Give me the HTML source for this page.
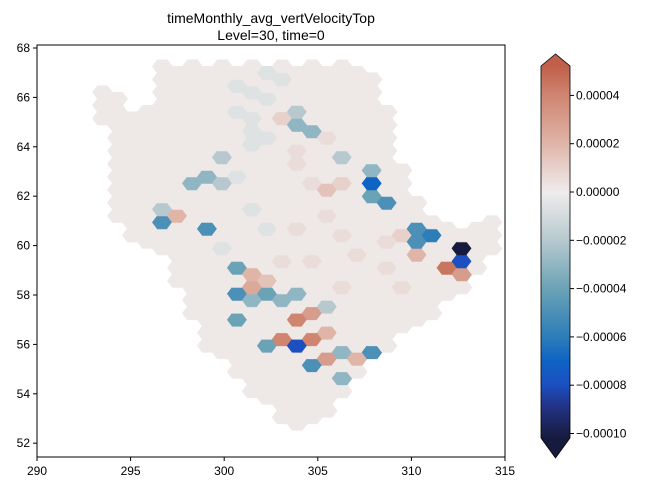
<!DOCTYPE html>
<html><head><meta charset="utf-8">
<style>
body{margin:0;background:#fff;}
svg text{font-family:"Liberation Sans","DejaVu Sans",sans-serif;fill:#000;}
</style></head>
<body>
<svg id="chart" width="650" height="491" viewBox="0 0 650 491" xmlns="http://www.w3.org/2000/svg">
<text x="271" y="23" text-anchor="middle" font-size="14">timeMonthly_avg_vertVelocityTop</text>
<text x="271" y="40" text-anchor="middle" font-size="14">Level=30, time=0</text>
<g id="cells"></g>
<rect x="37" y="45" width="468" height="412" fill="none" stroke="#000" stroke-width="1"/>
<g id="xaxis"></g>
<g id="yaxis"></g>
<defs><linearGradient id="cbgrad" x1="0" y1="1" x2="0" y2="0"></linearGradient></defs>
<g id="colorbar"></g>
</svg>
<script>
// ---- data ----
const colLon = [293.5,294.3,295.1,295.9,296.7,297.5,298.3,299.1,299.9,300.7,301.5,302.3,303.1,303.9,304.7,305.5,306.3,307.1,307.9,308.7,309.5,310.3,311.1,311.9,312.7,313.5,314.3];
const colLatTop = [66.4,66.4,65.5,65.9,67.3,67.3,67.4,67.4,67.5,67.4,67.4,67.4,67.4,67.4,67.4,67.4,67.4,67.4,66.9,65.5,63.1,61.9,61.0,60.8,60.8,61.0,61.2];
const colLatBot = [64.8,61.0,60.4,60.0,59.4,58.2,57.0,55.8,55.2,54.6,54.0,53.75,52.7,52.5,52.9,53.3,54.0,54.6,55.2,55.8,56.4,56.8,57.2,57.8,58.2,58.6,59.6];
const defaultValue = 0.0000015;
const cellLon = [296.8,297.5,298.8,296.5,298.7,299.4,299.7,307.6,307.5,308.3,309.0,310.2,310.5,311.2,313.0,313.1,311.6,312.4,310.5,309.9,304.0,303.8,304.7,303.4,300.7,300.8,301.4,301.5,302.3,302.2,301.1,301.6,303.7,304.4,303.4,304.2,305.1,305.6,306.2,304.7,307.8,306.7,307.1,302.6,303.2,303.8,305.5,305.3,306.1,305.9,305.9,299.9,
300.6,301.4,300.3,301.1,301.6,300.8,302.2,303.0,302.4,301.9,302.2,300.3,302.4,301.4,
304.0,304.6,305.1,306.2,307.3,308.3,306.7,304.0,305.1,308.9,304.0,305.7,303.0,309.4];
const cellLat = [60.7,61.1,60.6,61.6,62.6,62.8,63.7,62.6,63.1,62.1,61.5,60.9,60.3,60.2,59.8,59.3,59.3,59.1,59.8,60.4,64.7,65.6,64.8,64.9,59.1,58.1,59.0,58.5,58.5,57.9,57.1,57.8,57.2,57.3,56.3,56.2,56.1,55.5,55.6,55.2,55.7,54.4,55.3,56.0,57.9,57.8,57.5,56.5,62.7,62.3,63.5,62.3,
66.7,66.3,65.5,64.7,63.9,62.9,66.9,66.5,65.9,65.1,64.3,60.0,60.6,61.4,
63.1,62.3,61.2,60.6,59.8,59.0,58.2,60.6,59.4,60.2,63.9,64.3,59.4,58.2];
const cellVal = [-5e-5,2e-5,-5e-5,-2e-5,-3e-5,-3e-5,-2e-5,-7e-5,-3e-5,-4e-5,-5e-5,-5e-5,-5e-5,-6e-5,-1.1e-4,-8e-5,4.5e-5,3e-5,2e-5,1e-5,-3e-5,-2e-5,-3e-5,1e-5,-4e-5,-5e-5,2e-5,2.5e-5,1.5e-5,-4e-5,-4e-5,-3e-5,4e-5,3e-5,4e-5,-8e-5,4e-5,3e-5,-3e-5,-5e-5,-5e-5,-3e-5,2e-5,-4e-5,-3e-5,-3e-5,-2e-5,2e-5,1e-5,1.5e-5,-2e-5,-2e-5,
-6e-6,-6e-6,-6e-6,-6e-6,-6e-6,-6e-6,-6e-6,-6e-6,-6e-6,-6e-6,-6e-6,-6e-6,-6e-6,-6e-6,
6e-6,6e-6,6e-6,6e-6,6e-6,6e-6,6e-6,6e-6,6e-6,6e-6,6e-6,6e-6,6e-6,6e-6];
const xTicks = [290,295,300,305,310,315];
const yTicks = [52,54,56,58,60,62,64,66,68];
const cbTicks = [0.00004,0.00002,0,-0.00002,-0.00004,-0.00006,-0.00008,-0.0001];
const cbTickLabels = ["0.00004","0.00002","0.00000","\u22120.00002","\u22120.00004","\u22120.00006","\u22120.00008","\u22120.00010"];
const cmapVals = [-1.02e-4,-9e-5,-8e-5,-7e-5,-6e-5,-4e-5,-2e-5,0,2e-5,4e-5,5.2e-5];
const cmapCols = ["#161b3d","#22307e","#1c4fbf","#0f63c4","#2c7db8","#6ba3b6","#b7c9cf","#efecec","#dfb5a8","#cf8570","#c0604a"];
const latStep = 0.526, lonStep = 0.8;

// ---- scales ----
const NS="http://www.w3.org/2000/svg";
const xS = lon => 37 + (lon-290)*18.72;
const yS = lat => 48 + (68-lat)*24.7;
const cbY = v => 192 - v/2e-5*48.3;
function hex2rgb(h){return [1,3,5].map(i=>parseInt(h.substr(i,2),16));}
function color(v){
  if(v<=cmapVals[0]) return cmapCols[0];
  for(let i=1;i<cmapVals.length;i++){
    if(v<=cmapVals[i]){
      const t=(v-cmapVals[i-1])/(cmapVals[i]-cmapVals[i-1]);
      const a=hex2rgb(cmapCols[i-1]),b=hex2rgb(cmapCols[i]);
      return "rgb("+a.map((c,k)=>Math.round(c+(b[k]-c)*t)).join(",")+")";
    }
  }
  return cmapCols[cmapCols.length-1];
}
// ---- grid ----
const cells=[];
colLon.forEach((lon,i)=>{
  const off=(i%2)*latStep/2;
  for(let lat=52+off;lat<=colLatTop[i]+0.01;lat+=latStep){
    if(lat>=colLatBot[i]-0.01) cells.push({lon,lat,v:defaultValue});
  }
});
cellLon.forEach((lon,j)=>{
  let best=null,bd=1e9;
  cells.forEach(c=>{const d=Math.hypot(xS(c.lon)-xS(lon),yS(c.lat)-yS(cellLat[j]));if(d<bd){bd=d;best=c;}});
  if(best && bd<14) best.v=cellVal[j];
});
const g=document.getElementById('cells');
cells.forEach(c=>{
  const cx=xS(c.lon),cy=yS(c.lat);
  const p=document.createElementNS(NS,'polygon');
  
  
  p.setAttribute('points',[[cx-10,cy],[cx-5,cy-6.6],[cx+5,cy-6.6],[cx+10,cy],[cx+5,cy+6.6],[cx-5,cy+6.6]].map(q=>q.join(',')).join(' '));
  const col=color(c.v);
  p.setAttribute('fill',col);p.setAttribute('stroke',col);p.setAttribute('stroke-width','0.6');
  g.appendChild(p);
});
// ---- axes ----
const xa=document.getElementById('xaxis');
xTicks.forEach(t=>{
  const x=xS(t);
  const l=document.createElementNS(NS,'line');
  
  
  l.setAttribute('x1',x);l.setAttribute('x2',x);l.setAttribute('y1',457);l.setAttribute('y2',461);l.setAttribute('stroke','#000');
  xa.appendChild(l);
  const tx=document.createElementNS(NS,'text');
  
  
  tx.setAttribute('x',x);tx.setAttribute('y',475);tx.setAttribute('text-anchor','middle');tx.setAttribute('font-size','12');
  tx.textContent=t;xa.appendChild(tx);
});
const ya=document.getElementById('yaxis');
yTicks.forEach(t=>{
  const y=yS(t);
  const l=document.createElementNS(NS,'line');
  
  
  l.setAttribute('x1',33);l.setAttribute('x2',37);l.setAttribute('y1',y);l.setAttribute('y2',y);l.setAttribute('stroke','#000');
  ya.appendChild(l);
  const tx=document.createElementNS(NS,'text');
  
  
  tx.setAttribute('x',30);tx.setAttribute('y',y+4);tx.setAttribute('text-anchor','end');tx.setAttribute('font-size','12');
  tx.textContent=t;ya.appendChild(tx);
});
// ---- colorbar ----
const grad=document.getElementById('cbgrad');
const cbTop=66,cbBot=438;
cmapVals.forEach((v,i)=>{
  const s=document.createElementNS(NS,'stop');
  s.setAttribute('offset',((cbBot-cbY(v))/(cbBot-cbTop)));
  s.setAttribute('stop-color',cmapCols[i]);
  grad.appendChild(s);
});
const cb=document.getElementById('colorbar');
const r=document.createElementNS(NS,'rect');


r.setAttribute('x',541);r.setAttribute('y',cbTop);r.setAttribute('width',29);r.setAttribute('height',cbBot-cbTop);r.setAttribute('fill','url(#cbgrad)');
cb.appendChild(r);
const up=document.createElementNS(NS,'polygon');


up.setAttribute('points','541,'+cbTop+' 555.5,54 570,'+cbTop);up.setAttribute('fill',cmapCols[cmapCols.length-1]);
cb.appendChild(up);
const dn=document.createElementNS(NS,'polygon');


dn.setAttribute('points','541,'+cbBot+' 555.5,458 570,'+cbBot);dn.setAttribute('fill',cmapCols[0]);
cb.appendChild(dn);
const ol=document.createElementNS(NS,'polygon');


ol.setAttribute('points','541,'+cbTop+' 555.5,54 570,'+cbTop+' 570,'+cbBot+' 555.5,458 541,'+cbBot);
ol.setAttribute('fill','none');ol.setAttribute('stroke','#000');ol.setAttribute('stroke-width','0.8');
cb.appendChild(ol);
cbTicks.forEach((v,i)=>{
  const y=cbY(v);
  const l=document.createElementNS(NS,'line');
  
  
  l.setAttribute('x1',570);l.setAttribute('x2',574);l.setAttribute('y1',y);l.setAttribute('y2',y);l.setAttribute('stroke','#000');
  cb.appendChild(l);
  const tx=document.createElementNS(NS,'text');
  
  
  tx.setAttribute('x',576);tx.setAttribute('y',y+4);tx.setAttribute('font-size','12');
  tx.textContent=cbTickLabels[i];cb.appendChild(tx);
});
</script>
</body></html>
